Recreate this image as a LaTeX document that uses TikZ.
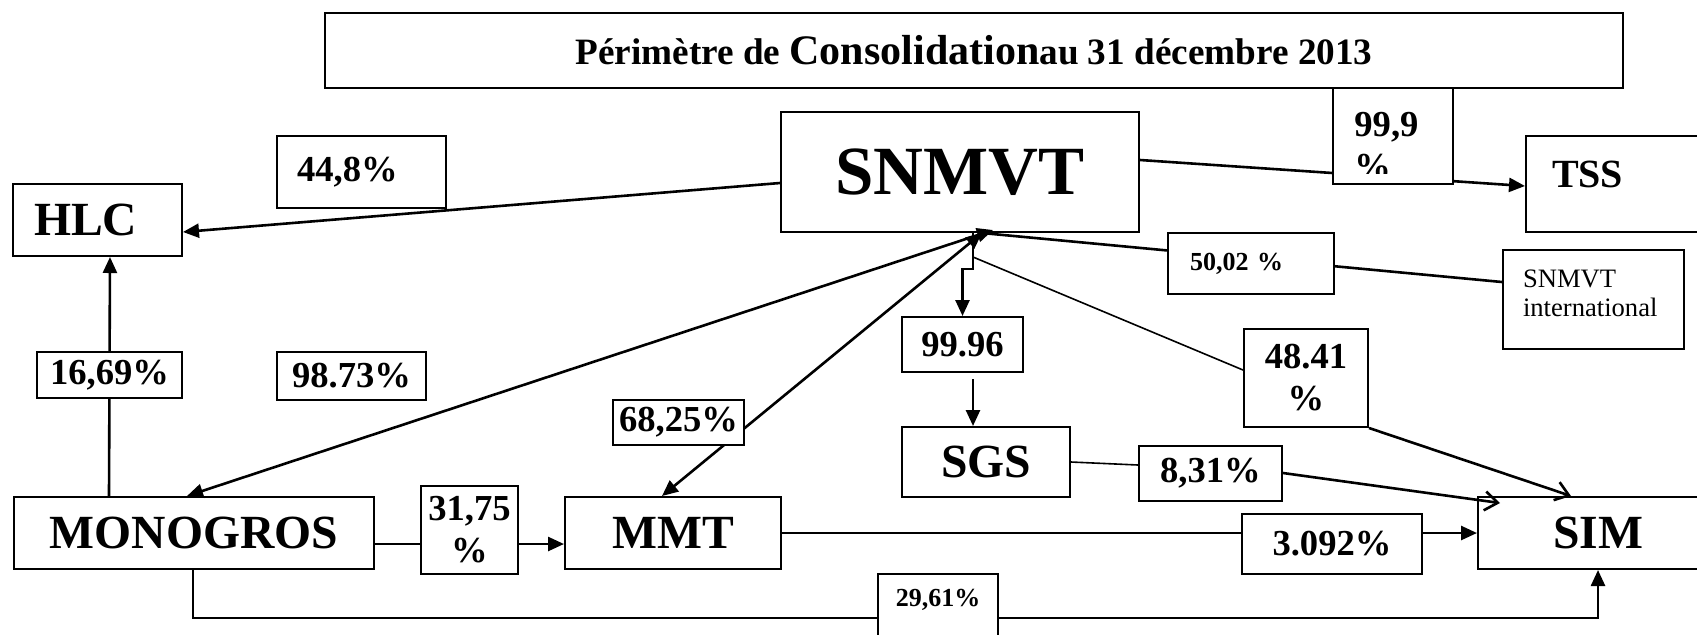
\documentclass[tikz,border=0pt]{standalone}
\usepackage{fontspec}
\setmainfont{Liberation Serif}
\usetikzlibrary{arrows.meta,calc,backgrounds}

\tikzset{
  bx/.style={draw,line width=1pt,inner sep=0pt},
  pct/.style={bx,fill=white,align=center,font=\bfseries\fontsize{18.3}{21}\selectfont},
  ent/.style={bx,font=\bfseries\fontsize{23.8}{27}\selectfont},
  smallpct/.style={font=\bfseries\fontsize{13}{15}\selectfont},
  ln/.style={line width=1.3pt},
  fine/.style={line width=0.8pt},
  arr/.style={ln,-{Triangle[length=8pt,width=7pt]}},
  arr2/.style={ln,{Triangle[length=8pt,width=7pt]}-{Triangle[length=8pt,width=7pt]}},
  barb/.style={ln,-{Straight Barb[length=6.5pt,width=9.5pt]}},
}

\begin{document}
\begin{tikzpicture}[x=0.5pt,y=-0.5pt]
    \useasboundingbox (0,0) rectangle (1697,634);
    \clip (0,0) rectangle (1697,634);
    % title
    \node[bx,minimum width=649pt,minimum height=37.5pt,font=\bfseries\fontsize{18.6}{21}\selectfont] (title) at (974,50.5)
      {Périmètre de {\fontsize{21}{21}\selectfont Consolidation}au 31 décembre 2013};
    % companies
    \node[bx,minimum width=179pt,minimum height=60pt,font=\bfseries\fontsize{34.5}{38}\selectfont] (snmvt) at (960,172) {SNMVT};
    \node[ent,minimum width=84.5pt,minimum height=36pt,text width=63.5pt,align=left,inner xsep=10.5pt] (hlc) at (97.5,220) {HLC};
    \node[bx,minimum width=117pt,minimum height=48pt,font=\bfseries\fontsize{20}{23}\selectfont,text width=91pt,align=left,inner xsep=13pt,text depth=10pt] (tss) at (1643,184) {TSS};
    \node[bx,minimum width=89.5pt,minimum height=49.5pt,font=\fontsize{13.3}{14.5}\selectfont,text width=70.5pt,align=left,inner xsep=10pt,text depth=20.5pt] (snmvti) at (1593.5,299.5) {SNMVT\\international};
    \node[ent,minimum width=84pt,minimum height=35pt] (sgs) at (986,462) {SGS};
    \node[ent,minimum width=180pt,minimum height=36pt] (monogros) at (194,533) {MONOGROS};
    \node[ent,minimum width=108pt,minimum height=36pt] (mmt) at (673,533) {MMT};
    \node[ent,minimum width=120pt,minimum height=36pt] (sim) at (1598,533) {SIM};
    % shares
    \node[pct,minimum width=84.5pt,minimum height=36pt,text width=64.5pt,align=left,inner xsep=10pt] (p448) at (361.5,172) {44,8\%};
    \node[pct,minimum width=72.5pt,minimum height=23pt] (p1669) at (109.5,375) {16,69\%};
    \node[pct,minimum width=74.5pt,minimum height=24pt] (p9873) at (351.5,376) {98.73\%};
    \node[pct,minimum width=65.5pt,minimum height=22.5pt] (p6825) at (678.5,422.5) {68,25\%};
    \node[pct,minimum width=48.5pt,minimum height=44pt] (p3175) at (469.5,530) {31,75\\\%};
    \node[pct,minimum width=60.5pt,minimum height=27.5pt] (p9996) at (962.5,344.5) {99.96};
    \node[pct,minimum width=62pt,minimum height=49pt] (p4841) at (1306,378) {48.41\\\%};
    \node[pct,minimum width=71.5pt,minimum height=27.5pt] (p831) at (1210.5,473.5) {8,31\%};
    \node[pct,minimum width=90pt,minimum height=30pt] (p3092) at (1332,544) {3.092\%};
    \node[pct,smallpct,minimum width=60pt,minimum height=33pt,text depth=9pt] (p2961) at (938,607) {29,61\%};
    \node[pct,smallpct,minimum width=83pt,minimum height=30.5pt,text width=61pt,align=left,inner xsep=11pt] (p5002) at (1251,263.5) {50,02 \%};
    \node[pct,minimum width=60pt,minimum height=48pt] (p999) at (1393,136) {};
    \begin{scope}
      \clip (p999.north west) rectangle ($(p999.south east)+(0,-12)$);
      \node[anchor=north west,inner sep=0pt,align=left,font=\bfseries\fontsize{18.3}{21}\selectfont] (t999)
        at ($(p999.north west)+(22,25)$) {99,9\\\%};
    \end{scope}
    % links
    \begin{scope}[on background layer]
      \draw[arr] ($(snmvt.west)+(0,11)$) -- ($(hlc.east)+(0,12)$);
      \draw[arr] ($(snmvt.east)+(0,-12)$) -- ($(tss.west)+(0,2)$);
      \draw[ln] ($(snmvt.south)+(22,0)$) -- ($(snmvti.west)+(0,-17.5)$);
      \draw[arr2] ($(snmvt.south)+(33,-3)$) -- ($(monogros.north)+(-7,0)$);
      \draw[arr2] ($(snmvt.south)+(22,0)$) -- ($(mmt.north)+(-11,0)$);
      \draw[arr] ($(snmvt.south)+(13,0)$) -- ++(0,36) -| (p9996.north);
      \draw[fine] ($(snmvt.south)+(13,24)$) -- ($(p4841.west)+(0,-8)$);
      \draw[barb] (p4841.south east) -- ($(sim.north)+(-27,0)$);
      \draw[fine] (sgs.east) -- ($(p831.west)+(0,-8.5)$);
      \draw[barb] ($(p831.east)+(0,-0.5)$) -- ($(sim.north west)+(23,7)$);
      \draw[arr] ($(p9996.south)+(10.5,6)$) -- ($(sgs.north)+(-13,0)$);
      \draw[arr] (mmt.east) -- (sim.west);
      \draw[arr] ($(monogros.east)+(0,11)$) -- ($(mmt.west)+(0,11)$);
      \draw[arr] ($(monogros.north west)+(96,0)$) -- ($(hlc.south)+(12.5,0)$);
      \draw[arr] ($(monogros.south)+(-1,0)$) -- ++(0,48) -| (sim.south);
    \end{scope}
\end{tikzpicture}
\end{document}
